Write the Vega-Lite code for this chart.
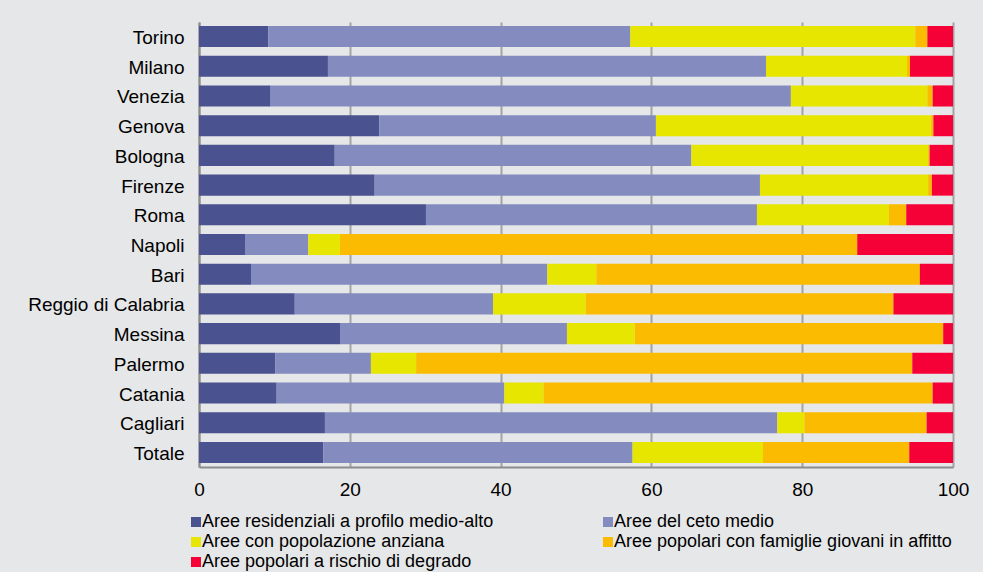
{
  "$schema": "https://vega.github.io/schema/vega-lite/v6.json",
  "width": 754,
  "height": 445,
  "autosize": "none",
  "padding": {"left": 199, "top": 22, "right": 30, "bottom": 105},
  "background": "#e6e7e8",
  "config": {
    "view": {"stroke": null},
    "font": "Liberation Sans, Arial, sans-serif",
    "axis": {"labelFont": "Liberation Sans, Arial, sans-serif", "labelColor": "#000000"},
    "legend": {"labelFont": "Liberation Sans, Arial, sans-serif"}
  },
  "data": {
    "values": [
      {"citta": "Torino", "a": 9.2, "b": 48.0, "c": 37.8, "d": 1.6, "e": 3.4},
      {"citta": "Milano", "a": 17.1, "b": 58.1, "c": 18.7, "d": 0.4, "e": 5.7},
      {"citta": "Venezia", "a": 9.5, "b": 69.0, "c": 18.1, "d": 0.7, "e": 2.7},
      {"citta": "Genova", "a": 23.9, "b": 36.7, "c": 36.5, "d": 0.3, "e": 2.6},
      {"citta": "Bologna", "a": 18.0, "b": 47.3, "c": 31.4, "d": 0.2, "e": 3.1},
      {"citta": "Firenze", "a": 23.3, "b": 51.1, "c": 22.3, "d": 0.5, "e": 2.8},
      {"citta": "Roma", "a": 30.1, "b": 43.9, "c": 17.5, "d": 2.3, "e": 6.2},
      {"citta": "Napoli", "a": 6.1, "b": 8.4, "c": 4.2, "d": 68.6, "e": 12.7},
      {"citta": "Bari", "a": 6.9, "b": 39.3, "c": 6.5, "d": 42.9, "e": 4.4},
      {"citta": "Reggio di Calabria", "a": 12.7, "b": 26.3, "c": 12.3, "d": 40.8, "e": 7.9},
      {"citta": "Messina", "a": 18.7, "b": 30.1, "c": 9.0, "d": 40.9, "e": 1.3},
      {"citta": "Palermo", "a": 10.1, "b": 12.7, "c": 6.0, "d": 65.8, "e": 5.4},
      {"citta": "Catania", "a": 10.3, "b": 30.2, "c": 5.2, "d": 51.6, "e": 2.7},
      {"citta": "Cagliari", "a": 16.7, "b": 60.0, "c": 3.6, "d": 16.2, "e": 3.5},
      {"citta": "Totale", "a": 16.5, "b": 41.0, "c": 17.3, "d": 19.4, "e": 5.8}
    ]
  },
  "transform": [
    {"fold": ["a", "b", "c", "d", "e"], "as": ["k", "valore"]},
    {"lookup": "k", "from": {"data": {"values": [
      {"k": "a", "categoria": "Aree residenziali a profilo medio-alto"},
      {"k": "b", "categoria": "Aree del ceto medio"},
      {"k": "c", "categoria": "Aree con popolazione anziana"},
      {"k": "d", "categoria": "Aree popolari con famiglie giovani in affitto"},
      {"k": "e", "categoria": "Aree popolari a rischio di degrado"}
    ]}, "key": "k", "fields": ["categoria"]}}
  ],
  "mark": {"type": "bar"},
  "encoding": {
    "y": {
      "field": "citta",
      "type": "nominal",
      "sort": null,
      "scale": {"paddingInner": 0.29, "paddingOuter": 0.135},
      "axis": {
        "title": null,
        "ticks": false,
        "grid": false,
        "domainColor": "#8c8c8c",
        "domainWidth": 2,
        "labelFontSize": 19,
        "labelPadding": 15,
        "labelOffset": 1.5
      }
    },
    "x": {
      "field": "valore",
      "type": "quantitative",
      "stack": "zero",
      "scale": {"domain": [0, 100], "nice": false},
      "axis": {
        "title": null,
        "values": [0, 20, 40, 60, 80, 100],
        "ticks": false,
        "grid": true,
        "gridColor": "#a3a3a3",
        "gridWidth": 2,
        "domainColor": "#8c8c8c",
        "domainWidth": 2,
        "labelFontSize": 19,
        "labelPadding": 13,
        "labelFlush": false
      }
    },
    "color": {
      "field": "categoria",
      "type": "nominal",
      "sort": [
        "Aree residenziali a profilo medio-alto",
        "Aree del ceto medio",
        "Aree con popolazione anziana",
        "Aree popolari con famiglie giovani in affitto",
        "Aree popolari a rischio di degrado"
      ],
      "scale": {
        "domain": [
          "Aree residenziali a profilo medio-alto",
          "Aree del ceto medio",
          "Aree con popolazione anziana",
          "Aree popolari con famiglie giovani in affitto",
          "Aree popolari a rischio di degrado"
        ],
        "range": ["#4a528f", "#848bbf", "#e6e600", "#fbbb00", "#f50037"]
      },
      "legend": {
        "title": null,
        "orient": "none",
        "legendX": -12,
        "legendY": 491,
        "columns": 2,
        "direction": "horizontal",
        "columnPadding": 105,
        "rowPadding": 2,
        "padding": 0,
        "symbolType": "square",
        "symbolSize": 100,
        "symbolStrokeWidth": 0,
        "symbolOpacity": 1,
        "labelFontSize": 18,
        "labelOffset": -3,
        "labelLimit": 500,
        "labelColor": "#000000"
      }
    },
    "order": {"field": "k", "type": "nominal"}
  }
}
